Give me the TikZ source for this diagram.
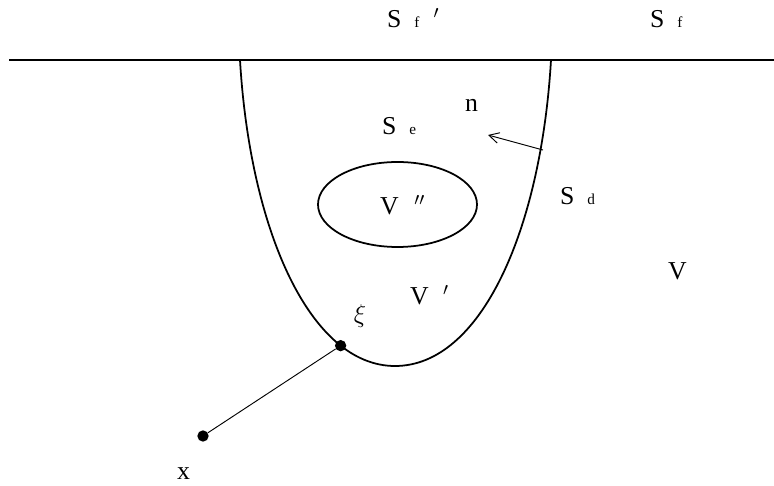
\documentclass[tikz,border=0pt]{standalone}
\usepackage{fix-cm}
\usepackage{fontspec}
\setmainfont{Liberation Serif}
\usetikzlibrary{arrows.meta, positioning}
\newcommand{\subl}[1]{\hspace{0.5em}{\fontsize{13}{14}\selectfont #1}}

\begin{document}
\begin{tikzpicture}[
  x=0.03cm, y=-0.03cm,
  lbl/.style={anchor=base west, inner sep=0pt, font=\fontsize{22}{25}\selectfont},
  bound/.style={line width=1.5pt},
  dot/.style={circle, fill, inner sep=0pt, minimum size=3.4mm},
  arr/.style={-{Straight Barb[length=3mm, width=3.2mm]}, line width=0.8pt}
]
\useasboundingbox (0,0) rectangle (774,486);

% free surface
\coordinate (lend) at (9,60);
\coordinate (rend) at (774,60);
\coordinate (tl) at (240,60);
\coordinate (tr) at (551,60);
\coordinate (bot) at (395,366);
\draw[bound] (lend) -- (rend);

% boundary S_d and inner hole
\draw[bound] (tl) .. controls (250,230) and (310,366) .. (bot) coordinate[pos=0.77] (xi0);
\draw[bound] (bot) .. controls (481,366) and (541,230) .. (tr);
\draw[bound] (397.5,204.5) ellipse [x radius=2.385cm, y radius=1.275cm];

% normal
\coordinate (nfoot) at (543,150);
\coordinate (ntip) at (488,135);
\draw[arr] (nfoot) -- (ntip);

% points
\node[dot] (xi) at (xi0) {};
\node[dot] (x) at (203,436) {};
\draw[line width=0.8pt] (x) -- (xi);

% labels
\node[lbl] (sfp) at (387,28) {S\subl{f}\hspace{0.55em}$'$};
\node[lbl] (sf) at (650,28) {S\subl{f}};
\node[lbl] (se) at (382,135) {S\subl{e}};
\node[lbl] (n) at (465,112) {n};
\node[lbl] (sd) at (560,205) {S\subl{d}};
\node[lbl] (vpp) at (380,215) {V\hspace{0.6em}$''$};
\node[lbl] (v) at (668,280) {V};
\node[lbl] (vp) at (410,305) {V\hspace{0.55em}$'$};
\node[lbl, anchor=center] (xil) at (360,316) {$\xi$};
\node[lbl] (xl) at (177,480) {x};
\end{tikzpicture}
\end{document}
